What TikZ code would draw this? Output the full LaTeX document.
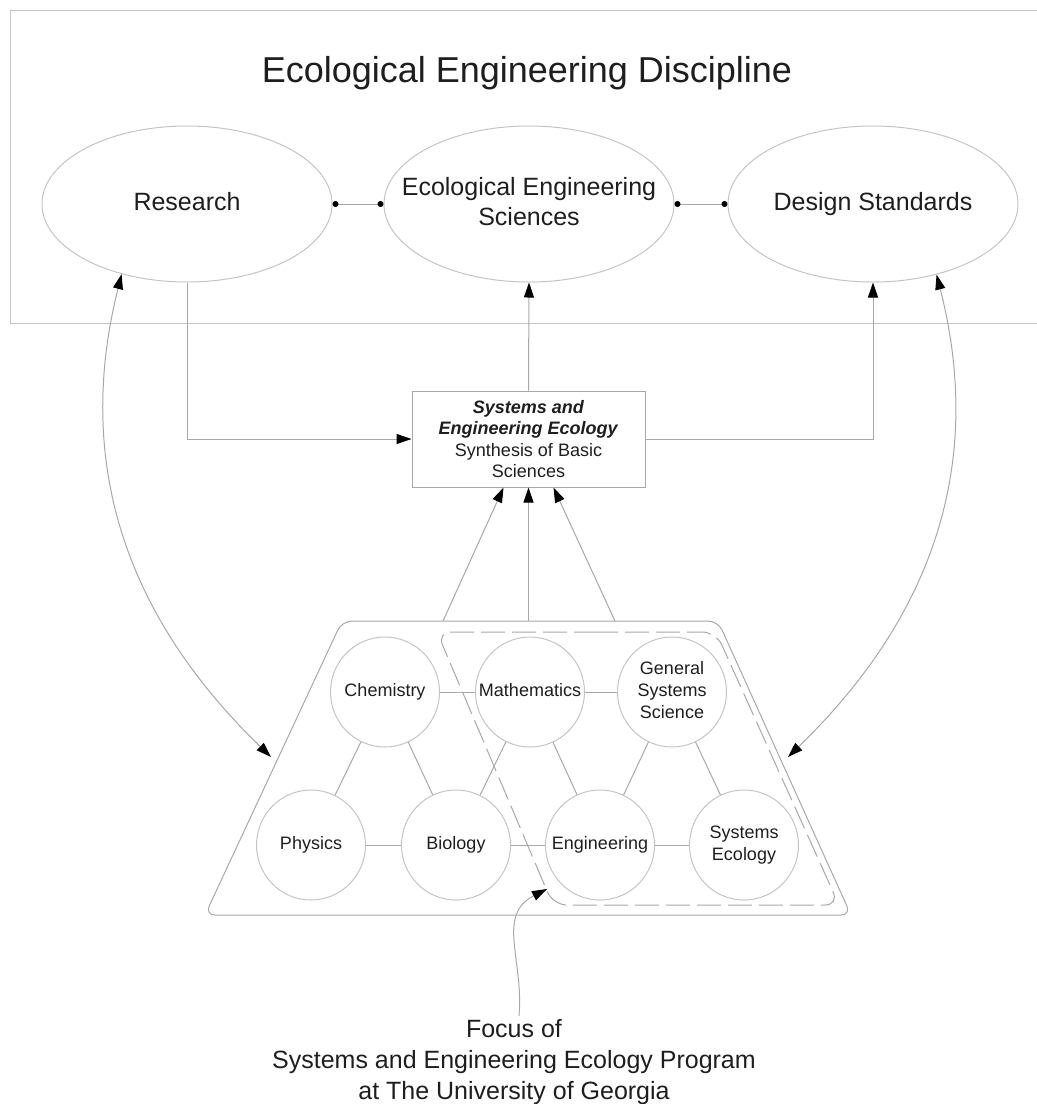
\documentclass[tikz,border=0pt]{standalone}
\usepackage{fontspec}
\setmainfont{Liberation Sans}
\usetikzlibrary{shapes.geometric,arrows.meta,calc}
\definecolor{ln}{HTML}{A8A8A8}
\definecolor{el}{HTML}{C4C4C4}
\definecolor{tx}{HTML}{1E1E1E}
\newcommand{\zw}[1]{\makebox[0pt][c]{\begin{tabular}{@{}c@{}}#1\end{tabular}}}
\begin{document}
\begin{tikzpicture}[x=1pt,y=-1pt,
  conn/.style={draw=ln, line width=1pt},
  arr/.style={conn, -{Triangle[length=15pt,width=10pt,color=black]}},
  arrtwo/.style={conn, {Triangle[length=15pt,width=10pt,color=black]}-{Triangle[length=15pt,width=10pt,color=black]}},
  dotlink/.style={conn, {Circle[length=6pt,color=black]}-{Circle[length=6pt,color=black]}},
  bigell/.style={ellipse, draw=el, line width=1pt, minimum width=290pt, minimum height=156pt, inner sep=0pt, text=tx, font=\fontsize{25}{30}\selectfont},
  sci/.style={ellipse, draw=el, line width=1pt, minimum width=109pt, minimum height=110pt, inner sep=0pt, text=tx, font=\fontsize{18}{22}\selectfont}
]
\useasboundingbox (0,0) rectangle (1037,1104);

% outer frame
\draw[draw=el, line width=1pt] (1037,10) -- (10,10) -- (10,323) -- (1037,323);
\node[text=tx, font=\fontsize{36}{43}\selectfont] (title) at (527,73) {Ecological Engineering Discipline};

% top ellipses
\node[bigell] (res) at (187,204) {\zw{Research}};
\node[bigell] (ees) at (529,204) {\zw{Ecological Engineering\\Sciences}};
\node[bigell] (ds) at (873,204) {\zw{Design Standards}};
\draw[dotlink] (res) -- (ees);
\draw[dotlink] (ees) -- (ds);

% synthesis box
\node[draw=ln, line width=1pt, minimum width=233pt, minimum height=96pt, inner sep=0pt, align=center, text=tx, font=\fontsize{18}{21.6}\selectfont] (box) at (528.5,439)
  {\textbf{\textit{Systems and}}\\\textbf{\textit{Engineering Ecology}}\\Synthesis of Basic\\Sciences};

\draw[arr] (res.south) |- (box.west);
\draw[arr] (box.north) -- (ees.south);
\draw[arr] (box.east) -| (ds.south);

% trapezoid
\coordinate (tTL) at (342,621);
\coordinate (tTR) at (718,621);
\coordinate (tBR) at (851,915);
\coordinate (tBL) at (205,915);
\draw[conn, rounded corners=10pt] (530,621) -- (tTR) -- (tBR) -- (tBL) -- (tTL) -- cycle;
\draw[conn, dash pattern=on 24pt off 7pt, rounded corners=14pt] (580,632) -- (716,632) -- (839,905) -- (553,905) -- (437,632) -- cycle;

% sciences
\node[sci] (chem) at (385,692) {\zw{Chemistry}};
\node[sci] (math) at (530,692) {\zw{Mathematics}};
\node[sci] (gss) at (672,692) {\zw{General\\Systems\\Science}};
\node[sci] (phys) at (311,845) {\zw{Physics}};
\node[sci] (bio) at (456,845) {\zw{Biology}};
\node[sci] (eng) at (600,845) {\zw{Engineering}};
\node[sci] (syse) at (744,845) {\zw{Systems\\Ecology}};

\draw[conn] (chem) -- (math);
\draw[conn] (math) -- (gss);
\draw[conn] (phys) -- (bio);
\draw[conn] (bio) -- (eng);
\draw[conn] (eng) -- (syse);
\draw[conn] (chem) -- (phys);
\draw[conn] (chem) -- (bio);
\draw[conn] (math) -- (bio);
\draw[conn] (math) -- (eng);
\draw[conn] (gss) -- (eng);
\draw[conn] (gss) -- (syse);

% arrows from trapezoid to box
\coordinate (tz1) at (443,621);
\coordinate (tz2) at (528.5,621);
\coordinate (tz3) at (615,621);
\draw[arr] (tz1) -- ([xshift=-25pt]box.south);
\draw[arr] (tz2) -- (box.south);
\draw[arr] (tz3) -- ([xshift=25pt]box.south);

% curved double arrows
\coordinate (lhit) at (271,757);
\coordinate (rhit) at (788,757);
\draw[arrtwo] (lhit) .. controls (140,630) and (70,480) .. (res.227.5);
\draw[arrtwo] (rhit) .. controls (919,630) and (989,480) .. (ds.312);

% focus
\node[align=center, text=tx, font=\fontsize{25}{31}\selectfont] (focus) at (514,1062)
  {Focus of\\Systems and Engineering Ecology Program\\at The University of Georgia};
\coordinate (fpt) at (547,889);
\draw[arr] ([xshift=5pt]focus.north) .. controls (524,960) and (496,915) .. (fpt);
\end{tikzpicture}
\end{document}
